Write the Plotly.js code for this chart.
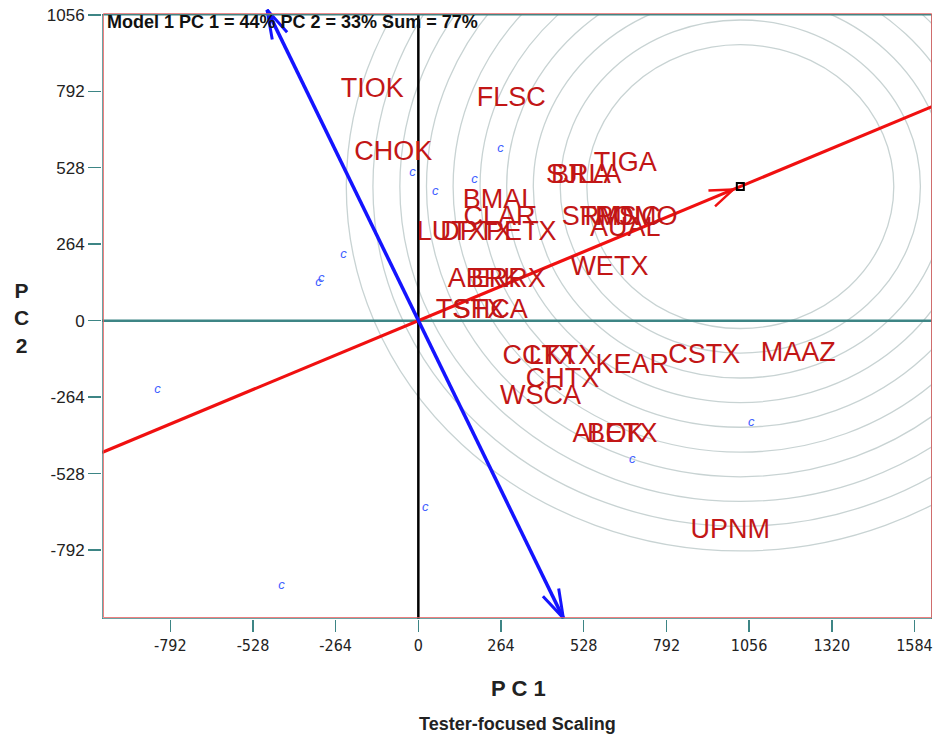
<!DOCTYPE html>
<html>
<head>
<meta charset="utf-8">
<script src="https://cdn.plot.ly/plotly-3.0.1.min.js"></script>
<style>
  html, body { margin: 0; padding: 0; background: #fff; }
  #chart { width: 939px; height: 740px; }
</style>
</head>
<body>
<div id="chart"></div>
<script>
// ---- data ----
const testerNames = ["TIOK","FLSC","CHOK","TIGA","SJLA","BRLA","STMS","RMNC","POMO","AUAL",
                     "BMAL","CLAR","LUTX","DPTX","PETX","WETX","ABRK","ERRX","TSTX","SHCA",
                     "CCTX","LKTX","KEAR","CHTX","WSCA","ALOK","BETX","CSTX","MAAZ","UPNM"];
const testerPC1 = [-147, 297, -80, 661, 511, 536, 578, 645, 696, 661,
                   259, 259, 105, 185, 329, 610, 211, 287, 166, 230,
                   386, 460, 683, 460, 390, 607, 651, 913, 1213, 996];
const testerPC2 = [794, 763, 577, 539, 497, 497, 355, 355, 355, 314,
                   411, 355, 303, 303, 303, 182, 138, 138, 34, 34,
                   -128, -128, -159, -204, -266, -397, -397, -124, -117, -726];

const entryPC1 = [262, -19, 179, 54, -239, -319, -310, -833, 22, -437, 1063, 683];
const entryPC2 = [593, 511, 486, 446, 228, 131, 145, -238, -646, -915, -352, -480];

const idealTester = [1028, 463];           // ideal tester (small square, ring centre)
const ringRadii = [490, 575, 661, 746, 831, 917, 1002, 1087, 1173, 1258];
const atcAbscissaPC1 = [-1010, 1640];      // red line ends
const atcAbscissaPC2 = [-455, 739];
const atcArrowTip = [1006, 453];           // small red arrow on the line
const atcOrdinatePC1 = [-483, 463];        // blue line ends (arrow tips)
const atcOrdinatePC2 = [1073, -1027];

const xTicks = [-792, -528, -264, 0, 264, 528, 792, 1056, 1320, 1584];
const yTicks = [-792, -528, -264, 0, 264, 528, 792, 1056];
const titleText = "Model 1 PC 1 = 44% PC 2 = 33% Sum = 77%";

// ---- geometry of the plot area ----
const X_RANGE = [-1010, 1640];
const Y_TOP_FRAME = 1056;
const Y_RANGE = [-1030, 1076];
const M = {l: 102, r: 7, t: 9, b: 121};
const W = 939, H = 740;
const kx = (W - M.l - M.r) / (X_RANGE[1] - X_RANGE[0]);
const ky = (H - M.t - M.b) / (Y_RANGE[1] - Y_RANGE[0]);

function barbs(tip, from, lenPx, angDeg) {
  let dx = (from[0] - tip[0]) * kx, dy = -(from[1] - tip[1]) * ky;
  const n = Math.hypot(dx, dy); dx /= n; dy /= n;
  const out = {x: [], y: []};
  [angDeg, -angDeg].forEach((a, i) => {
    const r = a * Math.PI / 180;
    const rx = dx * Math.cos(r) - dy * Math.sin(r);
    const ry = dx * Math.sin(r) + dy * Math.cos(r);
    const ex = tip[0] + rx * lenPx / kx, ey = tip[1] - ry * lenPx / ky;
    if (i === 0) { out.x.push(ex, tip[0]); out.y.push(ey, tip[1]); }
    else { out.x.push(ex); out.y.push(ey); }
  });
  return out;
}

const origin = [0, 0];
const blueTop = [atcOrdinatePC1[0], atcOrdinatePC2[0]];
const blueBot = [atcOrdinatePC1[1], atcOrdinatePC2[1]];
const bTop = barbs(blueTop, blueBot, 30, 16);
const bBot = barbs(blueBot, blueTop, 30, 17);
const rArr = barbs(atcArrowTip, origin, 25, 20);

const RED = '#f01010', BLUE = '#1414ff', TEAL = '#3d8585', LABEL = '#c21616';

const traces = [
  { // y = 0 line
    x: X_RANGE, y: [0, 0], mode: 'lines', line: {color: TEAL, width: 2.5},
    hoverinfo: 'skip', showlegend: false },
  { // x = 0 line
    x: [0, 0], y: [Y_RANGE[0], Y_TOP_FRAME], mode: 'lines', line: {color: '#000', width: 2.5},
    hoverinfo: 'skip', showlegend: false },
  { // red average-tester axis
    x: atcAbscissaPC1, y: atcAbscissaPC2, mode: 'lines', line: {color: RED, width: 3.2},
    hoverinfo: 'skip', showlegend: false },
  { // red arrow head
    x: rArr.x, y: rArr.y, mode: 'lines', line: {color: RED, width: 2.5},
    hoverinfo: 'skip', showlegend: false },
  { // entries shown as small "c"
    x: entryPC1, y: entryPC2, mode: 'text', text: entryPC1.map(() => 'c'),
    textposition: 'middle center',
    textfont: {family: 'Liberation Sans, Arial, sans-serif', size: 13, color: '#4060ff', style: 'italic'},
    hoverinfo: 'skip', showlegend: false },
  { // tester labels
    x: testerPC1, y: testerPC2, mode: 'text', text: testerNames,
    textposition: 'middle center',
    textfont: {family: 'Liberation Sans, Arial, sans-serif', size: 27, color: LABEL},
    hoverinfo: 'skip', showlegend: false },
  { // blue ordinate
    x: atcOrdinatePC1, y: atcOrdinatePC2, mode: 'lines', line: {color: BLUE, width: 3.5},
    hoverinfo: 'skip', showlegend: false },
  { x: bTop.x, y: bTop.y, mode: 'lines', line: {color: BLUE, width: 3},
    hoverinfo: 'skip', showlegend: false },
  { x: bBot.x, y: bBot.y, mode: 'lines', line: {color: BLUE, width: 3},
    hoverinfo: 'skip', showlegend: false },
  { // ideal tester marker
    x: [idealTester[0]], y: [idealTester[1]], mode: 'markers',
    marker: {symbol: 'square-open', size: 7, color: '#000', line: {width: 2, color: '#000'}},
    hoverinfo: 'skip', showlegend: false }
];

const shapes = ringRadii.map(r => ({
  type: 'circle', xref: 'x', yref: 'y', layer: 'below',
  x0: idealTester[0] - r, x1: idealTester[0] + r,
  y0: idealTester[1] - r, y1: idealTester[1] + r,
  line: {color: '#c8d3d3', width: 1.3}
}));
shapes.push({ // mask above frame
  type: 'rect', xref: 'x', yref: 'y', layer: 'below',
  x0: X_RANGE[0], x1: X_RANGE[1], y0: Y_TOP_FRAME, y1: Y_RANGE[1] + 20,
  fillcolor: '#fff', line: {width: 0}
});
shapes.push({ // frame (teal)
  type: 'rect', xref: 'x', yref: 'y', layer: 'above',
  x0: X_RANGE[0], x1: X_RANGE[1], y0: Y_RANGE[0], y1: Y_TOP_FRAME,
  line: {color: TEAL, width: 1.5}
});
shapes.push({ // frame (red fringe)
  type: 'rect', xref: 'x', yref: 'y', layer: 'above',
  x0: X_RANGE[0] + 1.5 / kx, x1: X_RANGE[1] - 0.5 / kx,
  y0: Y_RANGE[0] + 1.5 / ky, y1: Y_TOP_FRAME + 1.2 / ky,
  line: {color: '#e86060', width: 0.8}
});

const plotH = H - M.t - M.b, plotW = W - M.l - M.r;
const py = p => (H - M.b - p) / plotH;   // pixel y -> paper y
const px = p => (p - M.l) / plotW;       // pixel x -> paper x

const layout = {
  width: W, height: H,
  margin: M,
  paper_bgcolor: '#fff', plot_bgcolor: '#fff',
  showlegend: false,
  xaxis: {
    range: X_RANGE, showgrid: false, zeroline: false, showline: false,
    tickmode: 'array', tickvals: xTicks, ticktext: xTicks.map(String),
    ticks: 'outside', ticklen: 12, tickwidth: 1.5, tickcolor: TEAL,
    tickfont: {family: 'Liberation Sans Narrow, Arial Narrow, DejaVu Sans Condensed, sans-serif', size: 16, color: '#222'},
    fixedrange: true
  },
  yaxis: {
    range: Y_RANGE, showgrid: false, zeroline: false, showline: false,
    tickmode: 'array', tickvals: yTicks, ticktext: yTicks.map(String),
    ticks: 'outside', ticklen: 13, tickwidth: 1.5, tickcolor: TEAL,
    tickfont: {family: 'Liberation Sans, Arial, sans-serif', size: 17, color: '#222'},
    fixedrange: true
  },
  shapes: shapes,
  annotations: [
    { text: '<b>' + titleText + '</b>', xref: 'paper', yref: 'paper',
      x: px(105), y: py(22), xanchor: 'left', yanchor: 'middle', showarrow: false,
      font: {family: 'Liberation Sans, Arial, sans-serif', size: 18, color: '#111'} },
    { text: '<b>P C 1</b>', xref: 'paper', yref: 'paper',
      x: px(518), y: py(688), xanchor: 'center', yanchor: 'middle', showarrow: false,
      font: {family: 'Liberation Sans, Arial, sans-serif', size: 22, color: '#222'} },
    { text: '<b>Tester-focused Scaling</b>', xref: 'paper', yref: 'paper',
      x: px(517), y: py(724), xanchor: 'center', yanchor: 'middle', showarrow: false,
      font: {family: 'Liberation Sans, Arial, sans-serif', size: 18, color: '#222'} },
    { text: '<b>P<br>C<br>2</b>', xref: 'paper', yref: 'paper',
      x: px(21), y: py(318), xanchor: 'center', yanchor: 'middle', showarrow: false,
      align: 'center',
      font: {family: 'Liberation Sans, Arial, sans-serif', size: 21, color: '#222'} }
  ]
};

Plotly.newPlot('chart', traces, layout, {displayModeBar: false, staticPlot: true});
</script>
</body>
</html>
